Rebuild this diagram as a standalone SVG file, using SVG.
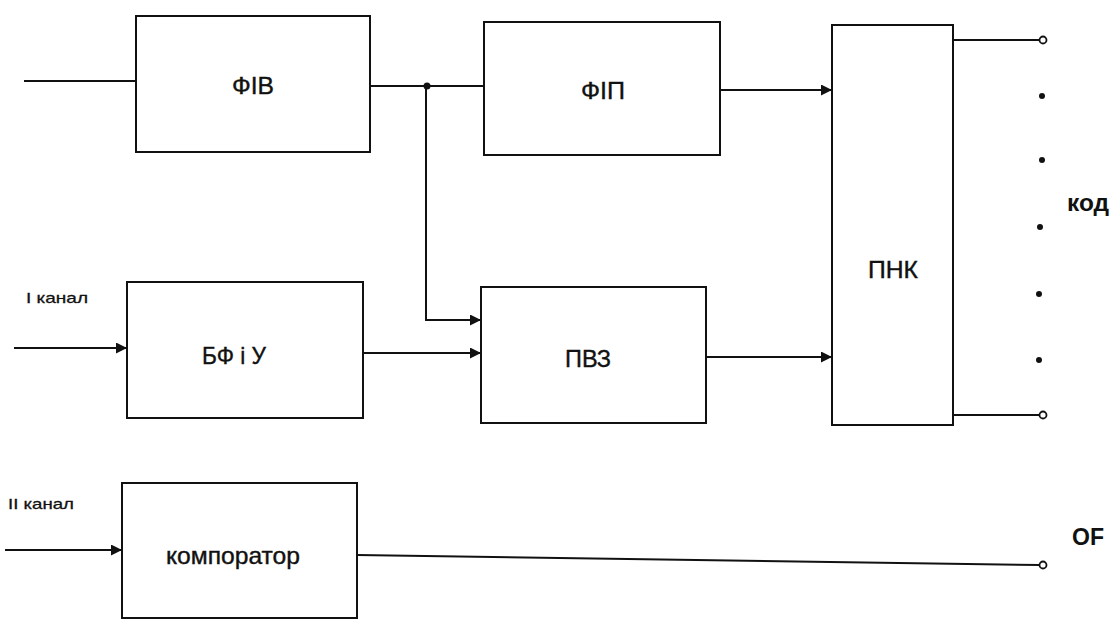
<svg xmlns="http://www.w3.org/2000/svg" width="1113" height="619" viewBox="0 0 1113 619">
<style>
.box{fill:#fff;stroke:#111;stroke-width:2}
.ln{fill:none;stroke:#111;stroke-width:2}
.t{font-family:"Liberation Sans",Arial,sans-serif;fill:#111;text-anchor:middle;stroke:#111;stroke-width:0.4}
.big{font-size:24px}
.sm{font-size:15px;text-anchor:start;stroke-width:0.3}
.term{fill:#fff;stroke:#111;stroke-width:1.8}
</style>
<defs>
<marker id="arr" viewBox="0 0 10 10" refX="10" refY="5" markerWidth="13" markerHeight="11" markerUnits="userSpaceOnUse" orient="auto">
<path d="M0,0 L10,5 L0,10 z" fill="#111"/>
</marker>
</defs>
<rect width="1113" height="619" fill="#fff"/>
<g id="connectors">
<path class="ln" d="M24,81 H136"/>
<path class="ln" d="M370,86 H484"/>
<circle cx="427" cy="86" r="3.5" fill="#111"/>
<path class="ln" d="M426,86 V320 H481" marker-end="url(#arr)"/>
<path class="ln" d="M720,90 H832" marker-end="url(#arr)"/>
<path class="ln" d="M14,348 H127" marker-end="url(#arr)"/>
<path class="ln" d="M363,353 H481" marker-end="url(#arr)"/>
<path class="ln" d="M706,357 H832" marker-end="url(#arr)"/>
<path class="ln" d="M953,40 H1040"/>
<circle class="term" cx="1043" cy="40" r="3.5"/>
<path class="ln" d="M953,415 H1040"/>
<circle class="term" cx="1043" cy="415" r="3.5"/>
<path class="ln" d="M5,550 H122" marker-end="url(#arr)"/>
<path class="ln" d="M357,555 L1040,565"/>
<circle class="term" cx="1043" cy="565" r="3.5"/>
<g fill="#111">
<circle cx="1042" cy="96" r="3"/>
<circle cx="1042" cy="160" r="3"/>
<circle cx="1040" cy="227" r="3"/>
<circle cx="1039" cy="294" r="3"/>
<circle cx="1039" cy="360" r="3"/>
</g>
</g>
<g id="fiv">
<rect class="box" x="136" y="16" width="234" height="136"/>
<text class="t big" x="253" y="94" textLength="42" lengthAdjust="spacingAndGlyphs">ФІВ</text>
</g>
<g id="fip">
<rect class="box" x="484" y="22" width="236" height="133"/>
<text class="t big" x="603" y="99" textLength="44" lengthAdjust="spacingAndGlyphs">ФІП</text>
</g>
<g id="pnk">
<rect class="box" x="832" y="25" width="121" height="400"/>
<text class="t big" x="893" y="278" textLength="50" lengthAdjust="spacingAndGlyphs">ПНК</text>
</g>
<g id="bfiu">
<rect class="box" x="127" y="282" width="236" height="136"/>
<text class="t big" x="234" y="364" textLength="64" lengthAdjust="spacingAndGlyphs">БФ і У</text>
</g>
<g id="pvz">
<rect class="box" x="481" y="287" width="225" height="136"/>
<text class="t big" x="588" y="367" textLength="46" lengthAdjust="spacingAndGlyphs">ПВЗ</text>
</g>
<g id="komp">
<rect class="box" x="122" y="483" width="235" height="135"/>
<text class="t" style="font-size:24px" x="233" y="564" textLength="134" lengthAdjust="spacingAndGlyphs">компоратор</text>
</g>
<g id="labels">
<text class="t sm" x="26" y="303" textLength="62" lengthAdjust="spacingAndGlyphs">І канал</text>
<text class="t sm" x="8" y="509" textLength="66" lengthAdjust="spacingAndGlyphs">ІІ канал</text>
<text class="t" style="font-size:24px;font-weight:bold;stroke-width:0" x="1088" y="211" textLength="42" lengthAdjust="spacingAndGlyphs">код</text>
<text class="t" style="font-size:24px;font-weight:bold;stroke-width:0" x="1088" y="545" textLength="32" lengthAdjust="spacingAndGlyphs">OF</text>
</g>
</svg>
